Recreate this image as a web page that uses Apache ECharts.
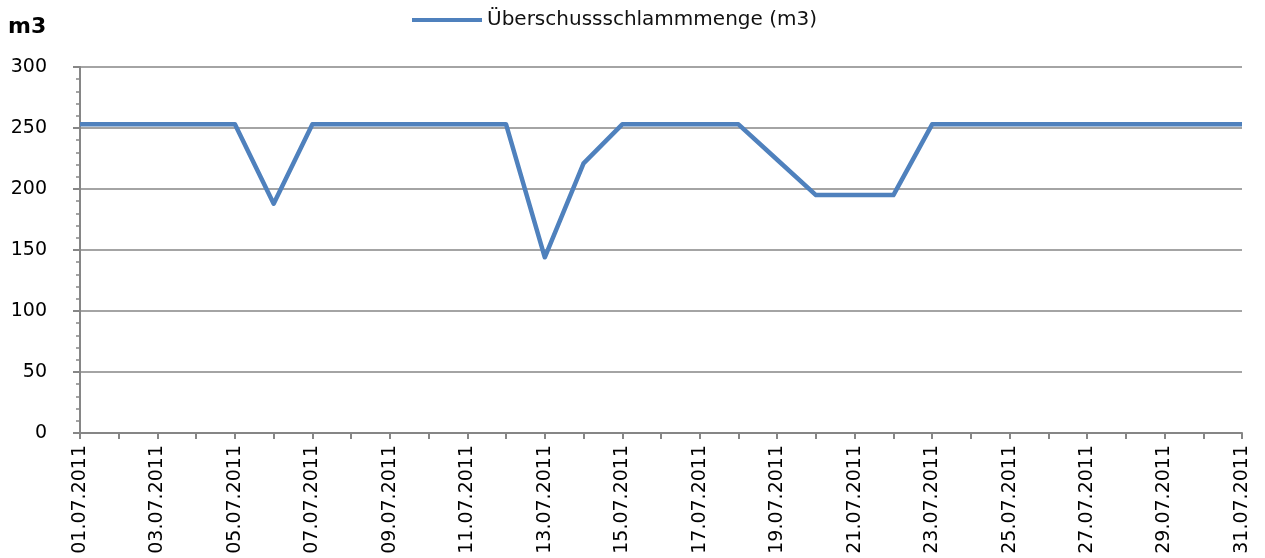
<!DOCTYPE html>
<html><head><meta charset="utf-8">
<script src="https://cdn.jsdelivr.net/npm/echarts@6/dist/echarts.min.js"></script>
<style>html,body{margin:0;padding:0;background:#fff}#c{width:1265px;height:558px}</style>
</head><body><div id="c"></div>
<script>
const categories = ['01.07.2011','02.07.2011','03.07.2011','04.07.2011','05.07.2011','06.07.2011','07.07.2011','08.07.2011','09.07.2011','10.07.2011','11.07.2011','12.07.2011','13.07.2011','14.07.2011','15.07.2011','16.07.2011','17.07.2011','18.07.2011','19.07.2011','20.07.2011','21.07.2011','22.07.2011','23.07.2011','24.07.2011','25.07.2011','26.07.2011','27.07.2011','28.07.2011','29.07.2011','30.07.2011','31.07.2011'];
const values = [253,253,253,253,253,188,253,253,253,253,253,253,144,221,253,253,253,253,224,195,195,195,253,253,253,253,253,253,253,253,253];
const seriesName = 'Überschussschlammmenge (m3)';
const chart = echarts.init(document.getElementById('c'));
const font = 'DejaVu Sans, Liberation Sans, Arial, sans-serif';
chart.setOption({
  animation: false,
  textStyle: {fontFamily: font},
  legend: {top: 5, left: 407, itemWidth: 70, itemHeight: 4, itemGap: 6,
    textStyle: {fontSize: 20, color: '#111', fontFamily: font},
    data: [{name: seriesName, icon: 'rect'}]},
  grid: {left: 80, right: 23, top: 67, bottom: 125, outerBoundsMode: 'none', containLabel: false},
  xAxis: {type: 'category', data: categories, boundaryGap: false,
    axisLine: {lineStyle: {color: '#868686', width: 2}},
    axisTick: {show: true, interval: 0, length: 6, lineStyle: {color: '#868686', width: 2}},
    axisLabel: {interval: 1, rotate: 90, margin: 12, fontSize: 19, color: '#000', fontFamily: font},
    splitLine: {show: false}},
  yAxis: {type: 'value', min: 0, max: 300, interval: 50,
    name: 'm3', nameLocation: 'end', nameGap: 0,
    nameTextStyle: {fontSize: 22, fontWeight: 'bold', color: '#000', align: 'left', padding: [0, 0, 29, -72], fontFamily: font},
    axisLine: {show: true, lineStyle: {color: '#868686', width: 2}},
    axisTick: {show: true, length: 7, lineStyle: {color: '#868686', width: 2}},
    minorTick: {show: true, splitNumber: 5, length: 4, lineStyle: {color: '#868686', width: 1.5}},
    axisLabel: {margin: 33, fontSize: 19, color: '#000', fontFamily: font},
    splitLine: {lineStyle: {color: '#868686', width: 1.5}}},
  series: [{name: seriesName, type: 'line', data: values, symbol: 'none',
    lineStyle: {color: '#4F81BD', width: 4.5, join: 'round'}, itemStyle: {color: '#4F81BD'}}]
});
</script></body></html>
